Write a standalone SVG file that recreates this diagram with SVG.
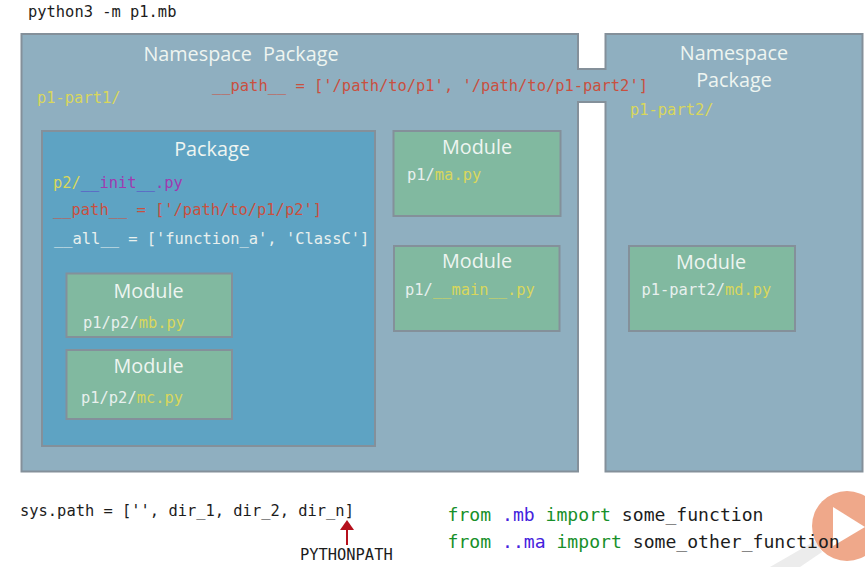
<svg xmlns="http://www.w3.org/2000/svg" width="865" height="567" viewBox="0 0 865 567">
<style>
text{font-family:"DejaVu Sans Mono","Liberation Mono",monospace}
.t{font-family:"Open Sans","Noto Sans",sans-serif;fill:#eef5f1;text-anchor:middle;font-size:19.800px}
.c{font-size:15.420px;fill:#e8f0ee}
.k{fill:#1c1c1c}
.r{fill:#c9503f}
.y{fill:#d9d75c}
.mod{fill:#81b9a0;stroke:#84909a;stroke-width:2}
.g{fill:#17902a}
.b{fill:#4422dd}
.big{font-size:18.100px}
</style>
<g id="namespace-shape"><path d="M21.500 34H578V69H605.500V34H862.500V471.500H605.500V102H578V471.500H21.500Z" fill="#8fafc0" stroke="#84909a" stroke-width="2"/></g>
<text class="k" x="28" y="17" font-size="15.420">python3 -m p1.mb</text>
<g id="ns1"><text class="t" x="241" y="61" word-spacing="6">Namespace Package</text>
<text class="c y" x="37" y="103">p1-part1/</text>
<text class="c r" x="212" y="91">__path__ = ['/path/to/p1', '/path/to/p1-part2']</text></g>
<g id="ns2"><text class="t" x="734" y="60">Namespace</text><text class="t" x="734" y="87">Package</text>
<text class="c y" x="630" y="115">p1-part2/</text></g>
<g id="package"><rect x="42" y="131" width="333" height="315" fill="#5ea3c3" stroke="#84909a" stroke-width="2"/>
<text class="t" x="212" y="156">Package</text>
<text class="c" x="53" y="188"><tspan class="y">p2/</tspan><tspan fill="#5a45c8">__</tspan><tspan fill="#a03ab0">init</tspan><tspan fill="#5a45c8">__</tspan><tspan fill="#a03ab0">.py</tspan></text>
<text class="c r" x="53" y="215">__path__ = ['/path/to/p1/p2']</text>
<text class="c" x="54" y="244">__all__ = ['function_a', 'ClassC']</text></g>
<g id="mb"><rect class="mod" x="66.500" y="273.500" width="165.500" height="63.500"/><text class="t" x="148.500" y="298">Module</text><text class="c" x="83" y="328">p1/p2/<tspan class="y">mb.py</tspan></text></g>
<g id="mc"><rect class="mod" x="66.500" y="350" width="165.500" height="69"/><text class="t" x="148.500" y="373">Module</text><text class="c" x="81" y="403">p1/p2/<tspan class="y">mc.py</tspan></text></g>
<g id="ma"><rect class="mod" x="393.500" y="131" width="167" height="85"/><text class="t" x="477" y="154">Module</text><text class="c" x="407" y="180">p1/<tspan class="y">ma.py</tspan></text></g>
<g id="main"><rect class="mod" x="394" y="246" width="165.500" height="85"/><text class="t" x="477" y="268">Module</text><text class="c" x="405" y="295">p1/<tspan class="y">__main__.py</tspan></text></g>
<g id="md"><rect class="mod" x="629" y="246" width="166" height="85"/><text class="t" x="711" y="269">Module</text><text class="c" x="641.500" y="295">p1-part2/<tspan class="y">md.py</tspan></text></g>
<text class="k" x="20" y="516" font-size="15.420">sys.path = ['', dir_1, dir_2, dir_n]</text>
<g id="connectors"><path d="M347 545V529" stroke="#b5101c" stroke-width="2" fill="none"/><path d="M340 530L347 520L354 530Z" fill="#b5101c"/></g>
<text class="k" x="300" y="560" font-size="15.400">PYTHONPATH</text>
<path d="M770 567L815 541L822 552L800 567Z" fill="#ececec"/>
<circle cx="847" cy="526" r="35" fill="#efa88a"/>
<path d="M833 507L865 527L833 546Z" fill="#fff"/>
<g class="big"><text x="447.500" y="521" class="k"><tspan class="g">from</tspan> <tspan class="b">.mb</tspan> <tspan class="g">import</tspan> some_function</text>
<text x="447.500" y="548" class="k"><tspan class="g">from</tspan> <tspan class="b">..ma</tspan> <tspan class="g">import</tspan> some_other_function</text></g>
</svg>
